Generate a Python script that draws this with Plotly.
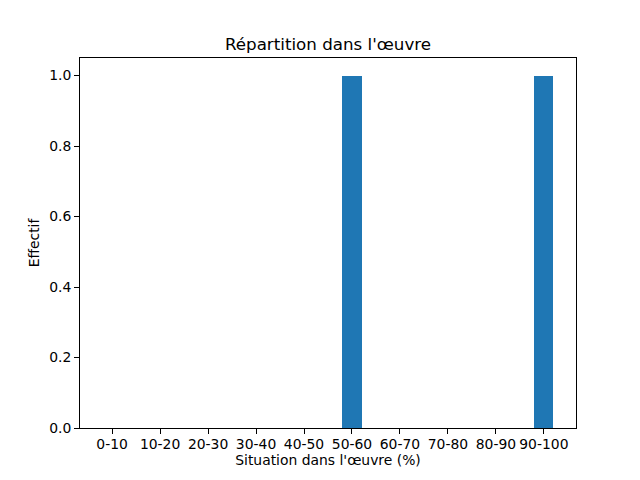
import plotly.graph_objects as go

# Data
tranches = ["0-10", "10-20", "20-30", "30-40", "40-50",
            "50-60", "60-70", "70-80", "80-90", "90-100"]
effectifs = [0, 0, 0, 0, 0, 1, 0, 0, 0, 1]
y_ticks = [0.0, 0.2, 0.4, 0.6, 0.8, 1.0]
y_tick_labels = ["0.0", "0.2", "0.4", "0.6", "0.8", "1.0"]

fig = go.Figure()
fig.add_trace(go.Bar(
    x=tranches,
    y=effectifs,
    width=0.4,
    marker=dict(color="#1f77b4", line=dict(width=0)),
))

axis_style = dict(
    showline=True, mirror=True, linecolor="black", linewidth=1,
    ticks="outside", ticklen=5, tickwidth=1, tickcolor="black",
    showgrid=False, zeroline=False,
    tickfont=dict(size=13.9, color="black"),
)

# the page body adds an 8px offset, so margins are shifted to compensate
fig.update_layout(
    width=640, height=480,
    margin=dict(l=72, r=72, t=50, b=60, autoexpand=False),
    paper_bgcolor="white", plot_bgcolor="white",
    font=dict(family="DejaVu Sans", color="black"),
    showlegend=False,
    title=dict(text="Répartition dans l'œuvre", x=0.5, xref="paper",
               y=1, yref="paper", yanchor="bottom", xanchor="center",
               pad=dict(b=8), font=dict(size=16.7, color="black")),
    bargap=0,
)
fig.update_xaxes(
    **axis_style,
    type="category",
    range=[-0.67, 9.67],
    ticklabelstandoff=-2,
    title=dict(text="Situation dans l'œuvre (%)", standoff=4,
               font=dict(size=13.9, color="black")),
)
fig.update_yaxes(
    **axis_style,
    range=[0, 1.05],
    tickvals=y_ticks,
    ticktext=y_tick_labels,
    title=dict(text="Effectif", standoff=6,
               font=dict(size=13.9, color="black")),
)

fig.write_html("out.html")
